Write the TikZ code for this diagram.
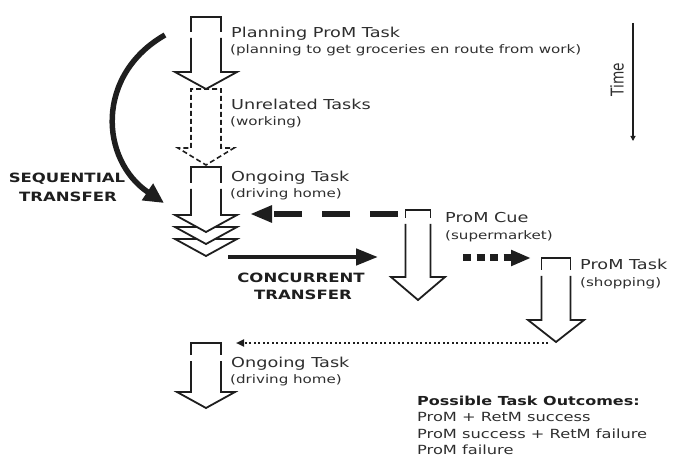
\documentclass[tikz,border=0pt]{standalone}
\usepackage{fontspec}
\setmainfont[FakeStretch=1.29]{DejaVu Sans}
\newfontfamily\plainfont{DejaVu Sans}
\usetikzlibrary{arrows.meta}
\definecolor{ink}{HTML}{1E1E1E}
\definecolor{txt}{HTML}{2E2E2E}

% block arrow for a task: name, style, x centre, y top, y gap start, y neck, y tip, half shaft, half head
\newcommand\TaskArrow[9]{%
  \coordinate (#1-top) at (#3,#4);
  \coordinate (#1-tip) at (#3,#7);
  \coordinate (#1-nw) at (#3-#8,#4);
  \draw[#2] (#3-#8,#5) -- (#3-#8,#4) -- (#3+#8,#4) -- (#3+#8,#5);
  \draw[#2,fill=white] (#3-#8,#5+6) -- (#3-#8,#6) -- (#3-#9,#6) -- (#3,#7)
        -- (#3+#9,#6) -- (#3+#8,#6) -- (#3+#8,#5+6);
}

\tikzset{
  outline/.style={draw=ink, line width=1.8pt, line join=miter},
  dashoutline/.style={outline, line width=1.6pt, dash pattern=on 5pt off 3pt},
  lbl/.style={anchor=base west, inner sep=0pt, text=txt, font=\fontsize{13.7}{16}\selectfont},
  sub/.style={lbl, font=\fontsize{11.7}{14}\selectfont},
  caps/.style={anchor=base, inner sep=0pt, text=ink, font=\bfseries\fontsize{12.8}{15}\selectfont},
  outcome/.style={anchor=base west, inner sep=0pt, text=txt, font=\fontsize{12.6}{15}\selectfont},
}

\begin{document}
\begin{tikzpicture}[x=1pt,y=-1pt]
\useasboundingbox (0,0) rectangle (675,457);

% planning task
\TaskArrow{plan}{outline}{206}{17}{32}{72}{89}{15}{31}
\node[lbl] (planT) at (231,38) {Planning ProM Task};
\node[sub] (planS) at (230,54) {(planning to get groceries en route from work)};

% unrelated tasks (dashed)
\coordinate (unrel-top) at (206,89);
\draw[dashoutline] (191,148) -- (191,89) -- (221,89) -- (221,148) -- (234,148)
      -- (206,165) -- (178,148) -- cycle;
\node[lbl] (unrelT) at (231,110) {Unrelated Tasks};
\node[sub] (unrelS) at (230,126) {(working)};

% ongoing task with stacked heads
\coordinate (ong-top) at (206,167);
\draw[outline] (191,183) -- (191,167) -- (221,167) -- (221,183);
\foreach \d in {24,12} {
  \draw[outline,fill=white] (175,215+\d) -- (206,232+\d) -- (237,215+\d) -- cycle;
}
\draw[outline,fill=white] (191,189) -- (191,215) -- (175,215) -- (206,232)
      -- (237,215) -- (221,215) -- (221,189);
\coordinate (ong-in) at (250,214);
\coordinate (ong-out) at (228,257);
\node[lbl] (ongT) at (231,182) {Ongoing Task};
\node[sub] (ongS) at (230,198) {(driving home)};

% prospective memory cue
\TaskArrow{cue}{outline}{418}{210}{218}{277}{300}{12.5}{27}
\coordinate (cue-from) at (398,214);
\coordinate (cue-in) at (378,257);
\coordinate (cue-out) at (463,258);
\node[lbl] (cueT) at (445,223) {ProM Cue};
\node[sub] (cueS) at (445,240) {(supermarket)};

% prospective memory task
\TaskArrow{task}{outline}{556}{258}{270}{320}{342}{14.5}{28}
\coordinate (task-in) at (531,258);
\coordinate (task-out) at (548,343);
\node[lbl] (taskT) at (580,270) {ProM Task};
\node[sub] (taskS) at (580,287) {(shopping)};

% back to the ongoing task
\TaskArrow{back}{outline}{206}{343}{355}{392}{408}{15}{29}
\coordinate (back-in) at (236,343);
\node[lbl] (backT) at (231,367) {Ongoing Task};
\node[sub] (backS) at (230,383) {(driving home)};

% transfers
\coordinate (seq-from) at (165,35);
\coordinate (seq-to) at (164,203);
\draw[ink, line width=5.5pt, -{Triangle[length=20pt,width=19pt]}]
  (seq-from) .. controls (95,75) and (100,160) .. (seq-to);
\node[caps] (seqA) at (67,183) {SEQUENTIAL};
\node[caps] (seqB) at (68,202) {TRANSFER};

\draw[ink, line width=4.5pt, -{Triangle[length=22pt,width=16pt]}] (ong-out) -- (cue-in);
\node[caps] (conA) at (301,283) {CONCURRENT};
\node[caps] (conB) at (303,299) {TRANSFER};

\draw[ink, line width=5.5pt, dash pattern=on 28pt off 20pt,
      -{Triangle[length=22pt,width=16pt]}] (cue-from) -- (ong-in);
\draw[ink, line width=7pt, dash pattern=on 8pt off 5.5pt,
      -{Triangle[length=20pt,width=15pt]}] (cue-out) -- (task-in);
\draw[ink, line width=2pt, dash pattern=on 2pt off 2.5pt,
      -{Triangle[length=8pt,width=7pt]}] (task-out) -- (back-in);

% time axis
\coordinate (time-a) at (633,23);
\coordinate (time-b) at (633,141);
\draw[ink, line width=1.1pt, -{Triangle[length=5pt,width=5pt]}] (time-a) -- (time-b);
\node[xscale=1.29, rotate=90, inner sep=0pt, text=txt,
      font=\plainfont\fontsize{13.7}{16}\selectfont] (time) at (617,80) {Time};

% outcomes
\node[outcome, font=\bfseries\fontsize{12.4}{15}\selectfont, text=ink] (outH) at (417,405) {Possible Task Outcomes:};
\node[outcome] (out1) at (417,421) {ProM + RetM success};
\node[outcome] (out2) at (417,438) {ProM success + RetM failure};
\node[outcome] (out3) at (417,454) {ProM failure};
\end{tikzpicture}
\end{document}
